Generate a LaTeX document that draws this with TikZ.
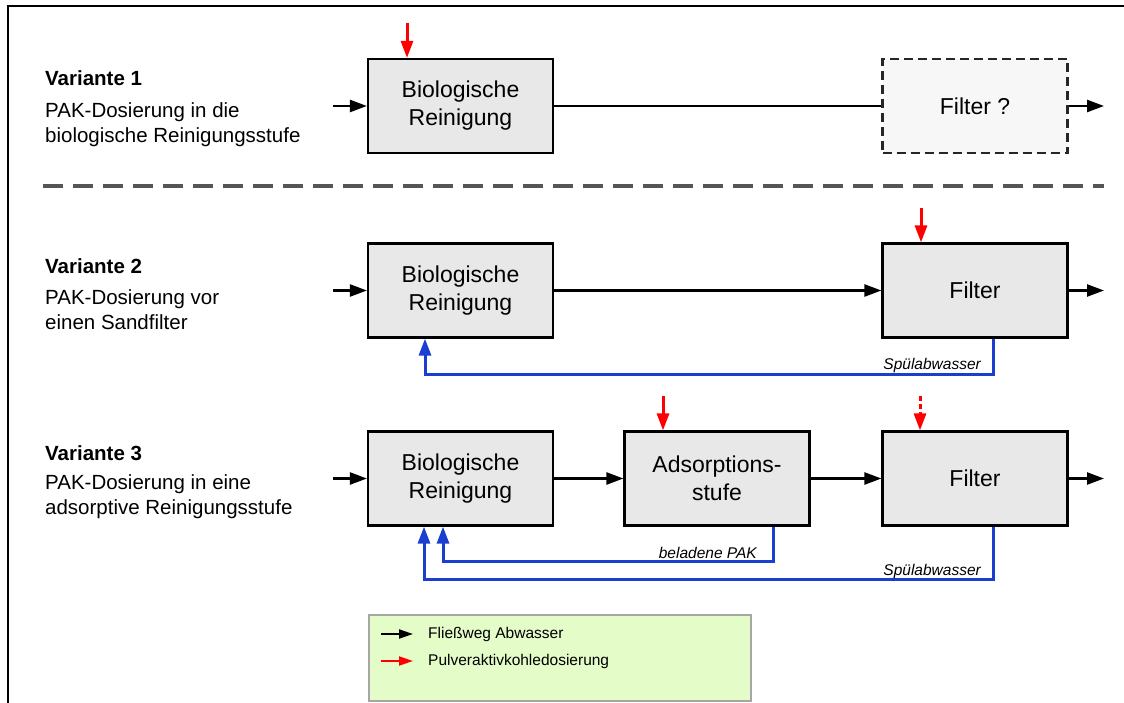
\documentclass[tikz,border=0pt]{standalone}
\usepackage{fontspec}
\setmainfont{Liberation Sans}
\usetikzlibrary{arrows.meta,positioning}
\definecolor{boxgray}{HTML}{E8E8E8}
\definecolor{paleGray}{HTML}{F7F7F7}
\definecolor{legendgreen}{HTML}{E3FCC8}
\definecolor{feedblue}{HTML}{1A3FD0}
\definecolor{sepgray}{HTML}{555555}

\begin{document}
\begin{tikzpicture}[x=1pt, y=-1pt,
  stage/.style={draw=black, line width=2.2pt, fill=boxgray, minimum width=185pt, minimum height=94pt,
    align=center, font=\fontsize{23}{28}\selectfont, inner sep=0pt},
  optstage/.style={stage, draw=black!85, dash pattern=on 9pt off 5pt, fill=paleGray},
  flow/.style={line width=2.4pt, -{Triangle[length=17pt,width=12pt]}},
  plainflow/.style={line width=2pt},
  dosing/.style={red, line width=3pt, -{Triangle[length=17pt,width=12pt]}},
  feedback/.style={feedblue, line width=3pt, -{Triangle[length=17pt,width=12pt]}},
  title/.style={anchor=west, inner sep=0pt, font=\fontsize{20.5}{25}\selectfont\bfseries},
  descr/.style={anchor=west, inner sep=0pt, align=left, font=\fontsize{20.5}{25}\selectfont},
  streamlabel/.style={anchor=east, inner sep=0pt, font=\fontsize{15.5}{18}\selectfont\itshape},
  legendtext/.style={anchor=west, inner sep=0pt, font=\fontsize{15.5}{18}\selectfont}]
  \useasboundingbox (0,0) rectangle (1124,703);

  % frame and separator
  \draw[line width=2.2pt] (8,703) -- (8,6) -- (1124,6);
  \draw[sepgray, line width=3.2pt, dash pattern=on 20pt off 10pt] (43,186) -- (1104,186);

  % Variante 1
  \node[title] (v1)  at (45,78)    {Variante 1};
  \node[descr] (v1d) at (45,124.5) {PAK-Dosierung in die\\biologische Reinigungsstufe};
  \node[stage]    (b1) at (460.5,106) {Biologische\\Reinigung};
  \node[optstage] (f1) at (975,106)   {Filter ?};
  \coordinate (in1)  at (333,106);
  \coordinate (out1) at (1104,106);
  \coordinate (d1)   at (407,23);
  \draw[flow] (in1) -- (b1);
  \draw[plainflow] (b1) -- (f1);
  \draw[flow] (f1) -- (out1);
  \draw[dosing] (d1) -- (d1 |- b1.north);

  % Variante 2
  \node[title] (v2)  at (45,266) {Variante 2};
  \node[descr] (v2d) at (45,310) {PAK-Dosierung vor\\einen Sandfilter};
  \node[stage] (b2) at (460.5,290.5) {Biologische\\Reinigung};
  \node[stage] (f2) at (975,290.5)   {Filter};
  \coordinate (in2)  at (333,290.5);
  \coordinate (out2) at (1104,290.5);
  \coordinate (d2)   at (921,208);
  \coordinate (rl2)  at (425,374);
  \draw[flow] (in2) -- (b2);
  \draw[flow] (b2) -- (f2);
  \draw[flow] (f2) -- (out2);
  \draw[dosing] (d2) -- (d2 |- f2.north);
  \draw[feedback] ([xshift=18pt]f2.south) |- (rl2) -- (rl2 |- b2.south);
  \node[streamlabel] (s2) at (981,365) {Spülabwasser};

  % Variante 3
  \node[title] (v3)  at (45,453)   {Variante 3};
  \node[descr] (v3d) at (45,496.5) {PAK-Dosierung in eine\\adsorptive Reinigungsstufe};
  \node[stage] (b3) at (460.5,478.5) {Biologische\\Reinigung};
  \node[stage] (a3) at (717,478.5)   {Adsorptions-\\stufe};
  \node[stage] (f3) at (975,478.5)   {Filter};
  \coordinate (in3)  at (333,478.5);
  \coordinate (out3) at (1104,478.5);
  \coordinate (d3)   at (663,396);
  \coordinate (d3f)  at (920,396);
  \coordinate (ra3)  at (443,561);
  \coordinate (rf3)  at (424,579);
  \draw[flow] (in3) -- (b3);
  \draw[flow] (b3) -- (a3);
  \draw[flow] (a3) -- (f3);
  \draw[flow] (f3) -- (out3);
  \draw[dosing] (d3) -- (d3 |- a3.north);
  \draw[dosing, dash pattern=on 5pt off 3pt] (d3f) -- (d3f |- f3.north);
  \draw[feedback] ([xshift=56pt]a3.south) |- (ra3) -- (ra3 |- b3.south);
  \draw[feedback] ([xshift=18pt]f3.south) |- (rf3) -- (rf3 |- b3.south);
  \node[streamlabel] (s3a) at (757,553) {beladene PAK};
  \node[streamlabel] (s3f) at (981,571) {Spülabwasser};

  % legend
  \node[draw=black!35, line width=1.5pt, fill=legendgreen, minimum width=382pt, minimum height=86pt,
    inner sep=0pt] (leg) at (560,658) {};
  \coordinate (lk1) at (381,634);
  \coordinate (lk2) at (381,661);
  \draw[line width=2pt, -{Triangle[length=14pt,width=9pt]}] (lk1) -- ++(32,0) coordinate (lk1e);
  \draw[red, line width=2pt, -{Triangle[length=14pt,width=9pt]}] (lk2) -- ++(32,0) coordinate (lk2e);
  \node[legendtext] (l1) at (428,634) {Fließweg Abwasser};
  \node[legendtext] (l2) at (428,661) {Pulveraktivkohledosierung};
\end{tikzpicture}
\end{document}
